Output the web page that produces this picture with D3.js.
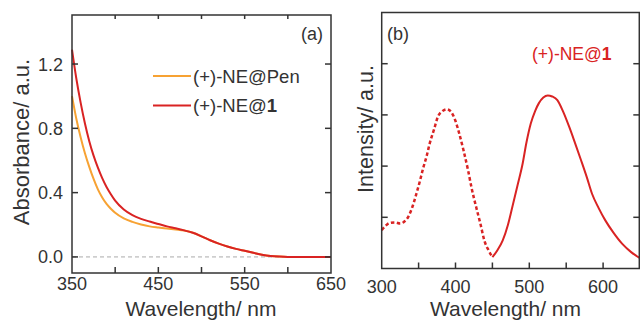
<!DOCTYPE html>
<html>
<head>
<meta charset="utf-8">
<script src="https://cdn.jsdelivr.net/npm/d3@7"></script>
<style>
  body { margin: 0; background: #fff; }
  svg { font-family: "Liberation Sans", Arial, sans-serif; }
</style>
</head>
<body>
<svg id="chart" width="640" height="322"></svg>
<script>
// panel (a) absorbance
const absWave = [350, 355, 360, 365, 370, 375, 380, 385, 390, 395, 400, 410, 420, 430, 440, 450, 460, 470, 480, 490, 500, 510, 520, 530, 540, 550, 560, 570, 580, 590, 600, 620, 650];
const absPen  = [1.00, 0.86, 0.745, 0.645, 0.56, 0.485, 0.42, 0.37, 0.33, 0.30, 0.275, 0.24, 0.218, 0.202, 0.19, 0.183, 0.177, 0.171, 0.164, 0.15, 0.128, 0.104, 0.083, 0.065, 0.05, 0.038, 0.026, 0.014, 0.006, 0.002, 0, 0, 0];
const absNE1  = [1.29, 1.11, 0.96, 0.83, 0.72, 0.63, 0.555, 0.49, 0.435, 0.39, 0.35, 0.295, 0.26, 0.237, 0.22, 0.205, 0.19, 0.178, 0.165, 0.15, 0.128, 0.104, 0.083, 0.065, 0.05, 0.038, 0.026, 0.014, 0.006, 0.002, 0, 0, 0];
const absXTicks = [350, 400, 450, 500, 550, 600, 650];
const absXLabels = [350, 450, 550, 650];
const absYTicks = [0, 0.4, 0.8, 1.2];

// panel (b) excitation (dotted) and emission (solid)
const excWave = [300, 305, 311, 318, 325, 330, 336, 342, 347, 352, 356, 361, 365, 371, 376, 382, 388, 394, 400, 405, 411, 417, 422, 428, 434, 439, 445, 450];
const excInt  = [0.75, 0.83, 0.89, 0.90, 0.88, 0.91, 1.01, 1.22, 1.46, 1.72, 1.95, 2.20, 2.44, 2.72, 2.96, 3.07, 3.11, 3.06, 2.88, 2.64, 2.30, 1.92, 1.56, 1.20, 0.86, 0.55, 0.35, 0.22];
const emWave  = [450, 457, 464, 471, 477, 484, 491, 496, 502, 508, 513, 519, 525, 531, 538, 546, 554, 562, 570, 578, 585, 594, 603, 614, 626, 638, 650];
const emInt   = [0.22, 0.36, 0.55, 0.85, 1.20, 1.62, 2.05, 2.45, 2.83, 3.08, 3.23, 3.34, 3.38, 3.36, 3.29, 3.06, 2.77, 2.45, 2.12, 1.78, 1.46, 1.18, 0.94, 0.70, 0.48, 0.32, 0.20];
const plXTicks = [300, 350, 400, 450, 500, 550, 600, 650];
const plXLabels = [300, 400, 500, 600];
const plYTicks = [1, 2, 3, 4];

const orange = "#f7a233";
const red = "#d92323";
const ink = "#333";

const svg = d3.select("#chart");

// ---------- panel (a) ----------
const ax = d3.scaleLinear().domain([350, 650]).range([72, 331]);
const ay = d3.scaleLinear().domain([-0.1, 1.505]).range([273, 15]);
const ga = svg.append("g");

ga.append("line")
  .attr("x1", ax(350)).attr("x2", ax(650))
  .attr("y1", ay(0)).attr("y2", ay(0))
  .attr("stroke", "#aaa").attr("stroke-width", 1)
  .attr("stroke-dasharray", "4,3");

const lineA = (vals) => d3.line()
  .x((d, i) => ax(absWave[i]))
  .y(d => ay(d))
  .curve(d3.curveMonotoneX)(vals);

ga.append("path").attr("d", lineA(absPen))
  .attr("fill", "none").attr("stroke", orange).attr("stroke-width", 2);
ga.append("path").attr("d", lineA(absNE1))
  .attr("fill", "none").attr("stroke", red).attr("stroke-width", 2);

ga.append("rect")
  .attr("x", 72).attr("y", 15).attr("width", 259).attr("height", 258)
  .attr("fill", "none").attr("stroke", ink).attr("stroke-width", 1.5);

ga.selectAll(".xt").data(absXTicks.slice(1, -1)).enter().append("line")
  .attr("x1", d => ax(d)).attr("x2", d => ax(d))
  .attr("y1", 273).attr("y2", 267)
  .attr("stroke", ink).attr("stroke-width", 1.5);
ga.selectAll(".xtt").data(absXTicks.slice(1, -1)).enter().append("line")
  .attr("x1", d => ax(d)).attr("x2", d => ax(d))
  .attr("y1", 15).attr("y2", 19)
  .attr("stroke", ink).attr("stroke-width", 1.5);
ga.selectAll(".yt").data(absYTicks).enter().append("line")
  .attr("x1", 72).attr("x2", 78)
  .attr("y1", d => ay(d)).attr("y2", d => ay(d))
  .attr("stroke", ink).attr("stroke-width", 1.5);
ga.selectAll(".ytr").data(absYTicks).enter().append("line")
  .attr("x1", 331).attr("x2", 325)
  .attr("y1", d => ay(d)).attr("y2", d => ay(d))
  .attr("stroke", ink).attr("stroke-width", 1.5);

ga.selectAll(".xl").data(absXLabels).enter().append("text")
  .attr("x", d => ax(d)).attr("y", 290)
  .attr("text-anchor", "middle").attr("font-size", 18).attr("fill", ink)
  .text(d => d);
ga.selectAll(".yl").data(absYTicks).enter().append("text")
  .attr("x", 63).attr("y", d => ay(d) + 6.5)
  .attr("text-anchor", "end").attr("font-size", 18).attr("fill", ink)
  .text(d => d.toFixed(1));

ga.append("text").attr("x", 201).attr("y", 316)
  .attr("text-anchor", "middle").attr("font-size", 21).attr("fill", ink)
  .text("Wavelength/ nm");
ga.append("text")
  .attr("transform", "translate(29,142) rotate(-90)")
  .attr("text-anchor", "middle").attr("font-size", 22).attr("fill", ink)
  .text("Absorbance/ a.u.");
ga.append("text").attr("x", 323).attr("y", 39.5)
  .attr("text-anchor", "end").attr("font-size", 18).attr("fill", ink)
  .text("(a)");

// legend
const legend = [
  { name: "(+)-NE@Pen", bold: "", color: orange, y: 76 },
  { name: "(+)-NE@", bold: "1", color: red, y: 105.5 }
];
legend.forEach(l => {
  ga.append("line").attr("x1", 153).attr("x2", 191)
    .attr("y1", l.y).attr("y2", l.y)
    .attr("stroke", l.color).attr("stroke-width", 2);
  const t = ga.append("text").attr("x", 193).attr("y", l.y + 6.5)
    .attr("font-size", 18.5).attr("fill", ink);
  t.append("tspan").text(l.name);
  if (l.bold) t.append("tspan").attr("font-weight", "bold").text(l.bold);
});

// ---------- panel (b) ----------
const bx = d3.scaleLinear().domain([300, 650]).range([381.7, 640]);
const by = d3.scaleLinear().domain([0, 5]).range([268.5, 12.5]);
const gb = svg.append("g");

const lineB = d3.line()
  .x(d => bx(d[0])).y(d => by(d[1]))
  .curve(d3.curveMonotoneX);

gb.append("path").attr("d", lineB(excWave.map((w, i) => [w, excInt[i]])))
  .attr("fill", "none").attr("stroke", red).attr("stroke-width", 2.5)
  .attr("stroke-dasharray", "3.5,2.5");
gb.append("path").attr("d", lineB(emWave.map((w, i) => [w, emInt[i]])))
  .attr("fill", "none").attr("stroke", red).attr("stroke-width", 2);

gb.append("rect")
  .attr("x", 381.7).attr("y", 12.5).attr("width", 257.6).attr("height", 256)
  .attr("fill", "none").attr("stroke", ink).attr("stroke-width", 1.5);

gb.selectAll(".xt").data(plXTicks.slice(1, -1)).enter().append("line")
  .attr("x1", d => bx(d)).attr("x2", d => bx(d))
  .attr("y1", 268.5).attr("y2", 262.5)
  .attr("stroke", ink).attr("stroke-width", 1.5);
gb.selectAll(".yt").data(plYTicks).enter().append("line")
  .attr("x1", 381.7).attr("x2", 387.7)
  .attr("y1", d => by(d)).attr("y2", d => by(d))
  .attr("stroke", ink).attr("stroke-width", 1.5);
gb.selectAll(".ytr").data(plYTicks).enter().append("line")
  .attr("x1", 639.3).attr("x2", 633.3)
  .attr("y1", d => by(d)).attr("y2", d => by(d))
  .attr("stroke", ink).attr("stroke-width", 1.5);

gb.selectAll(".xl").data(plXLabels).enter().append("text")
  .attr("x", d => bx(d)).attr("y", 293)
  .attr("text-anchor", "middle").attr("font-size", 18).attr("fill", ink)
  .text(d => d);

gb.append("text").attr("x", 505.5).attr("y", 316)
  .attr("text-anchor", "middle").attr("font-size", 21).attr("fill", ink)
  .text("Wavelength/ nm");
gb.append("text")
  .attr("transform", "translate(372.5,129) rotate(-90)")
  .attr("text-anchor", "middle").attr("font-size", 21.5).attr("fill", ink)
  .text("Intensity/ a.u.");
gb.append("text").attr("x", 387).attr("y", 39.5)
  .attr("font-size", 18).attr("fill", ink)
  .text("(b)");

const lab = gb.append("text").attr("x", 532).attr("y", 60)
  .attr("font-size", 17.5).attr("fill", red);
lab.append("tspan").text("(+)-NE@");
lab.append("tspan").attr("font-weight", "bold").text("1");
</script>
</body>
</html>
